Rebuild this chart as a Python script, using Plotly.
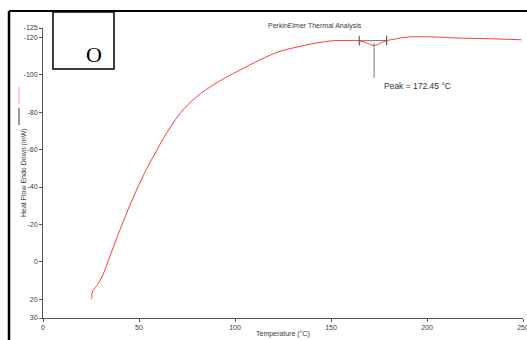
import plotly.graph_objects as go

# Data
temperature = [25.0, 25.4, 25.7, 28.8, 31.4, 34.0, 36.6, 38.7, 41.8, 47.0, 52.2, 54.0, 59.2, 62.6,
               71.3, 80.0, 88.7, 97.4, 102.6, 113.0, 123.4, 133.9, 144.3, 151.0, 157.0, 164.7, 168.5,
               172.45, 176.0, 179.0, 183.0, 187.6, 193.0, 201.5, 217.1, 231.0, 249.2]
heat_flow = [20.0, 19.0, 16.0, 11.6, 6.5, -0.5, -7.8, -13.5, -21.6, -34.5, -46.0, -49.8, -59.5, -65.8,
             -79.3, -88.2, -94.6, -99.8, -102.5, -108.0, -112.5, -115.2, -117.3, -118.2, -118.3, -118.2, -117.0,
             -115.7, -117.0, -118.3, -119.0, -119.9, -120.3, -120.3, -119.6, -119.3, -118.7]

peak_T = 172.45
peak_v = -115.7
peak_line_end = -98.4
baseline_T = [164.7, 179.0]
baseline_v = [-118.2, -118.3]
marker_half = 2.6
peak_label = "Peak = 172.45 °C"

x_ticks = [0, 50, 100, 150, 200, 250]
y_ticks = [-125, -120, -100, -80, -60, -40, -20, 0, 20, 30]

FONT = "Arial, Liberation Sans, sans-serif"
AX = "#555555"
TXT = "#3a3a3a"

fig = go.Figure()

fig.add_trace(go.Scatter(x=temperature, y=heat_flow, mode="lines",
                         line=dict(color="rgb(255,60,60)", width=1, shape="spline", smoothing=1.0),
                         hoverinfo="skip"))
# baseline
fig.add_trace(go.Scatter(x=baseline_T, y=baseline_v, mode="lines",
                         line=dict(color="#777777", width=1)))
# end markers
for t, v in zip(baseline_T, baseline_v):
    fig.add_trace(go.Scatter(x=[t, t], y=[v - marker_half, v + marker_half], mode="lines",
                             line=dict(color="#444444", width=1)))
# peak vertical line
fig.add_trace(go.Scatter(x=[peak_T, peak_T], y=[peak_v - 1.2, peak_line_end], mode="lines",
                         line=dict(color="#777777", width=1)))

fig.add_annotation(x=176.6, y=-94.1, xref="x", yref="y", text=peak_label, showarrow=False,
                   xanchor="left", yanchor="middle", font=dict(family=FONT, size=8.5, color="#333333"))

fig.update_layout(
    width=527, height=340,
    margin=dict(l=43, r=4, t=28, b=22, autoexpand=False),
    paper_bgcolor="white", plot_bgcolor="white",
    showlegend=False,
    font=dict(family=FONT, size=7, color=TXT),
    xaxis=dict(range=[0, 250], tickvals=x_ticks, ticks="outside", ticklen=3, tickcolor=AX,
               showline=True, linecolor=AX, linewidth=1, showgrid=False, zeroline=False,
               automargin=False, ticklabeloverflow="allow", tickfont=dict(size=7, color=TXT)),
    yaxis=dict(range=[30, -125], tickvals=y_ticks, ticktext=[str(v) for v in y_ticks],
               ticks="outside", ticklen=3, tickcolor=AX, automargin=False,
               showline=True, linecolor=AX, linewidth=1, showgrid=False, zeroline=False,
               ticklabeloverflow="allow", tickfont=dict(size=7, color=TXT)),
)

# x title
fig.add_annotation(x=0.5, y=-0.055, xref="paper", yref="paper", text="Temperature (°C)",
                   showarrow=False, yanchor="middle", font=dict(family=FONT, size=7, color=TXT))
# y title
fig.add_annotation(x=-0.052, y=0.50, xref="paper", yref="paper", text="Heat Flow Endo Down (mW)",
                   textangle=-90, showarrow=False, font=dict(family=FONT, size=7, color=TXT))
# chart title
fig.add_annotation(x=0.567, y=1.0276, xref="paper", yref="paper", text="PerkinElmer Thermal Analysis",
                   showarrow=False, font=dict(family=FONT, size=7, color=TXT))

# frame lines
fig.add_shape(type="line", xref="paper", yref="paper", x0=-0.0708, x1=-0.0708, y0=1.0586, y1=-0.08,
              line=dict(color="black", width=2.5))
fig.add_shape(type="line", xref="paper", yref="paper", x0=-0.0708, x1=1.01, y0=1.0586, y1=1.0586,
              line=dict(color="black", width=2))
# box with O
fig.add_shape(type="rect", xref="paper", yref="paper", x0=0.0208, x1=0.1479, y0=0.8586, y1=1.0552,
              line=dict(color="black", width=1.5), fillcolor="white")
fig.add_annotation(x=0.0844, y=0.957, xref="paper", yref="paper", text="O", showarrow=False,
                   font=dict(family="Liberation Serif, Times New Roman, serif", size=22, color="black"))
# mini legend marks
fig.add_shape(type="line", xref="paper", yref="paper", x0=-0.05, x1=-0.05, y0=0.7966, y1=0.7379,
              line=dict(color="#ffaaaa", width=1.2))
fig.add_shape(type="line", xref="paper", yref="paper", x0=-0.05, x1=-0.05, y0=0.7241, y1=0.6655,
              line=dict(color="#555555", width=1.2))

fig.write_html("out.html", config={"displayModeBar": False},
               post_script="document.body.style.margin='0';document.body.style.overflow='hidden';")
